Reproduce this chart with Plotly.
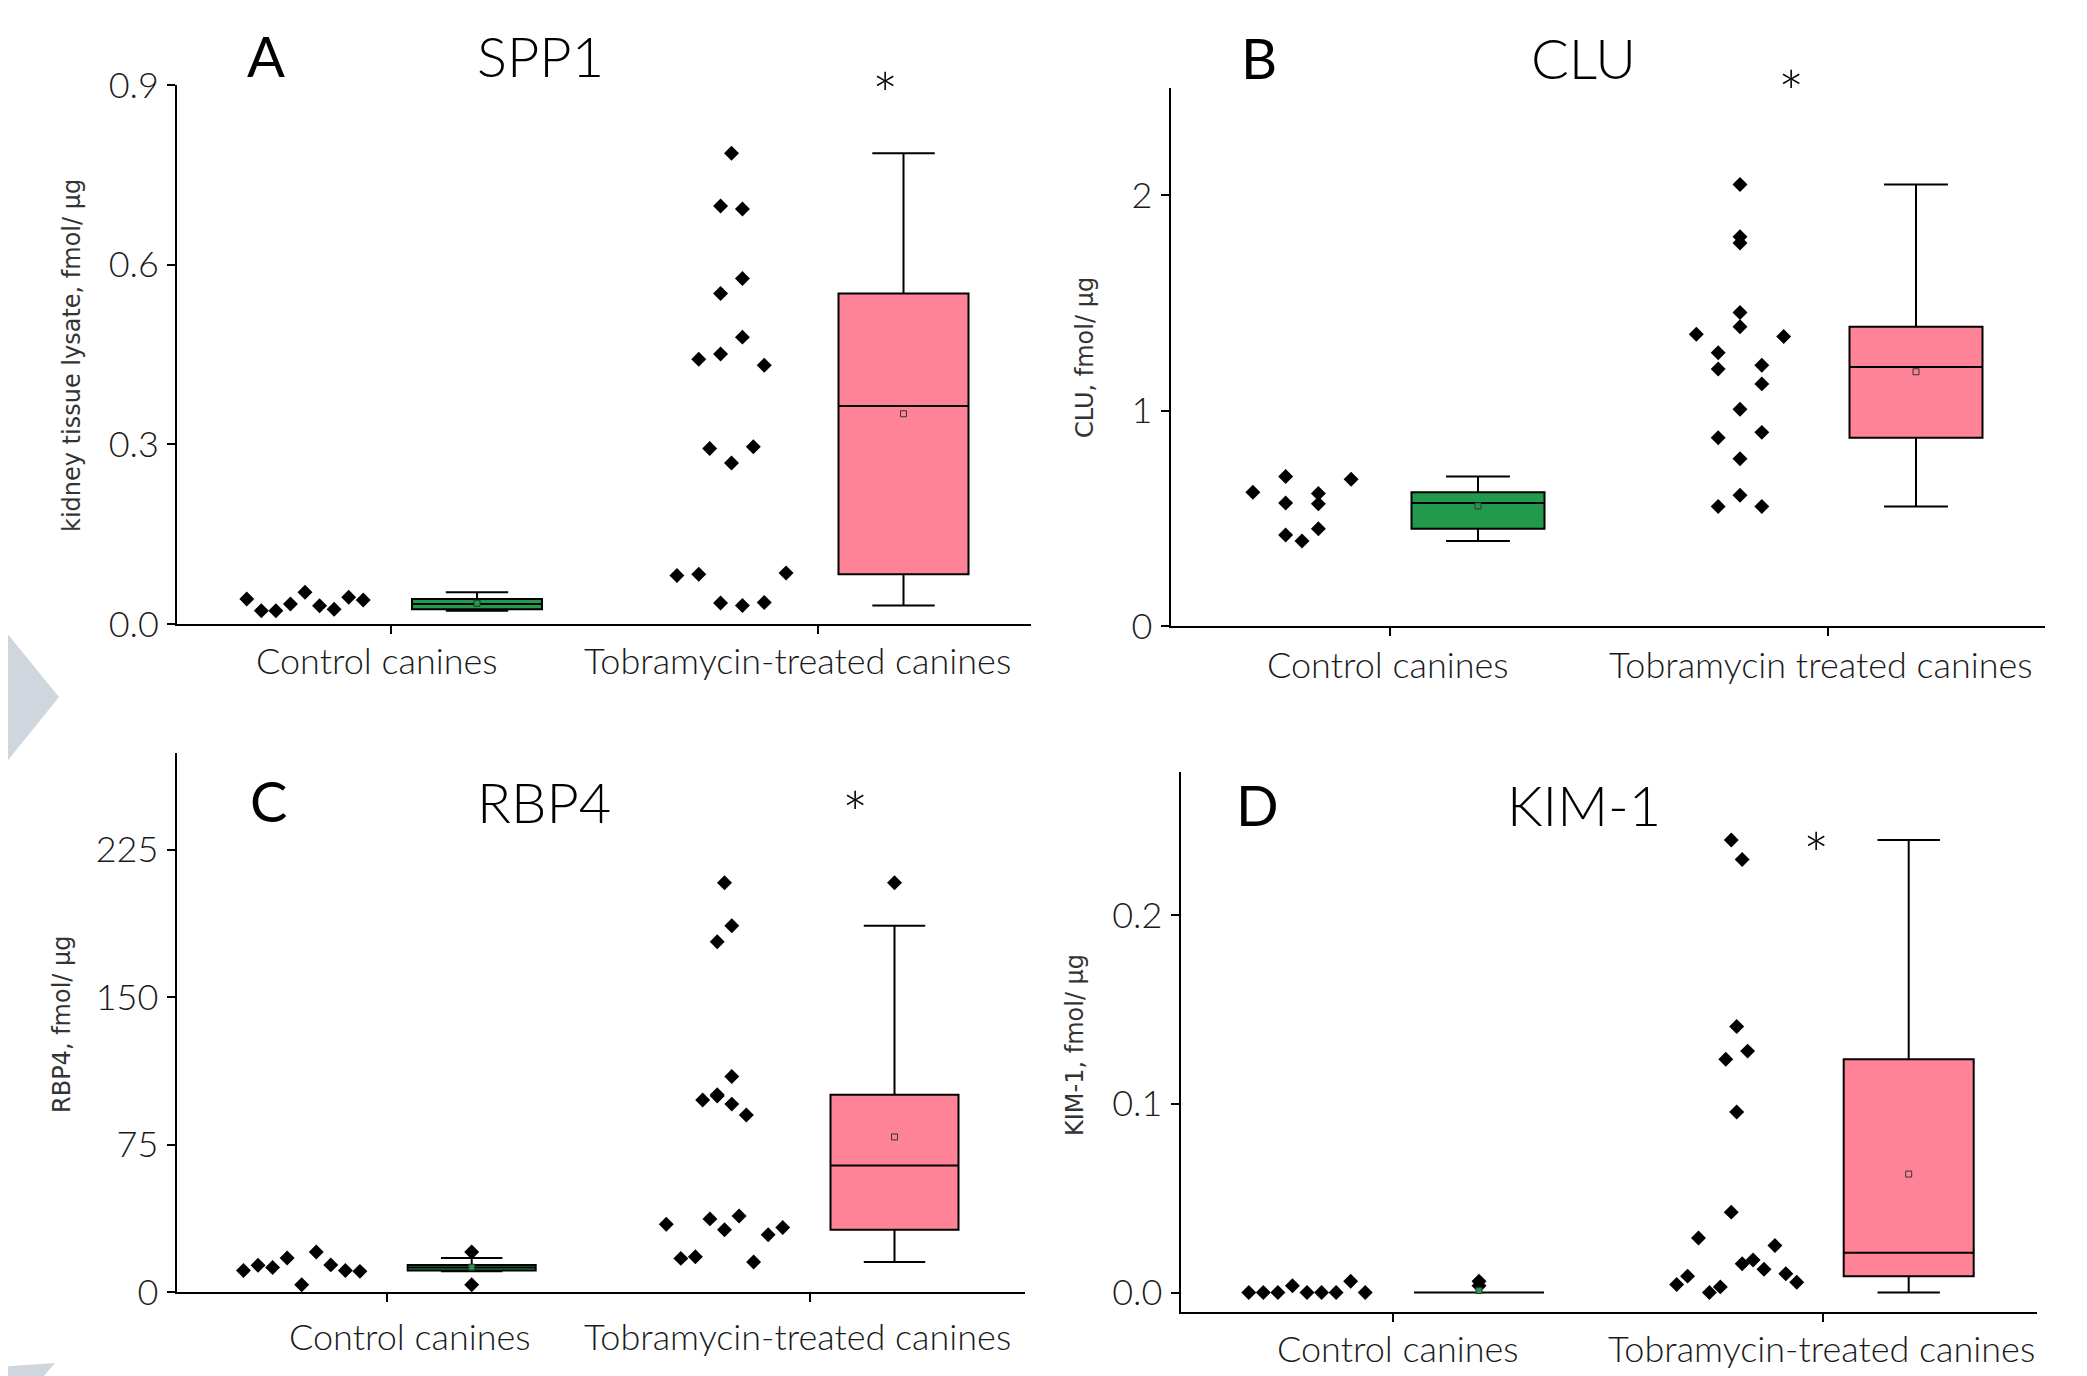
import numpy as np
import plotly.graph_objects as go

W, H = 2087, 1376
PAGE_MARGIN = 8  # the HTML body margin that shifts the whole figure on the page

# ---------------- data ----------------
groups = ["Control canines", "Tobramycin-treated canines"]
groups_b = ["Control canines", "Tobramycin treated canines"]

spp1_control = [0.0417, 0.0222, 0.0222, 0.0334, 0.0529, 0.0306, 0.0245, 0.0446, 0.0401]
spp1_treated = [0.786, 0.698, 0.693, 0.552, 0.577, 0.442, 0.451, 0.479, 0.432,
                0.293, 0.269, 0.296, 0.081, 0.083, 0.035, 0.031, 0.036, 0.085]

clu_control = [0.621, 0.422, 0.694, 0.571, 0.395, 0.451, 0.615, 0.681, 0.567]
clu_treated = [2.05, 1.807, 1.778, 1.455, 1.354, 1.389, 1.344, 1.269, 1.193,
               1.211, 1.124, 1.006, 0.874, 0.899, 0.776, 0.555, 0.607, 0.555]

rbp4_control = [10.9, 13.6, 12.5, 17.3, 3.7, 20.3, 13.8, 10.9, 10.5]
rbp4_treated = [34.5, 17.1, 17.9, 37.2, 31.7, 38.7, 15.3, 29.1, 32.8,
                97.7, 99.7, 95.6, 90.1, 100.4, 109.6, 178.2, 186.3, 208.2]

kim1_control = [0.0, 0.0, 0.0, 0.0036, 0.0, 0.0, 0.0, 0.006, 0.0]
kim1_treated = [0.2397, 0.2294, 0.1236, 0.1409, 0.1279, 0.0956, 0.0043, 0.0087, 0.0289,
                0.0, 0.0030, 0.0426, 0.0153, 0.0173, 0.0123, 0.0249, 0.0100, 0.0055]

spp1_ticks = [0.0, 0.3, 0.6, 0.9]
clu_ticks = [0, 1, 2]
rbp4_ticks = [0, 75, 150, 225]
kim1_ticks = [0.0, 0.1, 0.2]

# ---------------- style / layout ----------------
GREEN = "#229a4b"
PINK = "#ff8396"
FONT = "Lato"
SPAN = 131  # horizontal spread (px) of the widest bin of points

panels = [
    dict(letter="A", name="SPP1", ctrl=spp1_control, trt=spp1_treated, labels=groups,
         ytitle="kidney tissue lysate, fmol/ µg", yrange=[0, 0.9], ticks=spp1_ticks, fmt="{:.1f}",
         binw=0.1, x0=177, x1=1031, ytop=85, ybot=624, xt=[391, 817.5], off=86, boxw=130,
         lab=[(377, 660), (797.5, 660)], letter_xy=(266, 55), name_xy=(540, 56),
         star_xy=(885, 79), ytitle_xy=(72, 356)),
    dict(letter="B", name="CLU", ctrl=clu_control, trt=clu_treated, labels=groups_b,
         ytitle="CLU, fmol/ µg", yrange=[0, 2.5], ticks=clu_ticks, fmt="{:.0f}",
         binw=0.1, x0=1170.5, x1=2045, ytop=87.5, ybot=626, xt=[1390, 1828], off=88, boxw=133,
         lab=[(1388, 664), (1821, 664)], letter_xy=(1259, 58), name_xy=(1583, 58),
         star_xy=(1790.6, 77), ytitle_xy=(1085, 358)),
    dict(letter="C", name="RBP4", ctrl=rbp4_control, trt=rbp4_treated, labels=groups,
         ytitle="RBP4, fmol/ µg", yrange=[0, 274.5], ticks=rbp4_ticks, fmt="{:.0f}",
         binw=50, x0=176.5, x1=1025, ytop=752.5, ybot=1292, xt=[386.7, 809.5], off=85, boxw=128,
         lab=[(410, 1336), (797.5, 1336)], letter_xy=(268, 800), name_xy=(544, 801),
         star_xy=(855, 798), ytitle_xy=(62, 1024)),
    dict(letter="D", name="KIM-1", ctrl=kim1_control, trt=kim1_treated, labels=groups,
         ytitle="KIM-1, fmol/ µg", yrange=[-0.0103, 0.2756], ticks=kim1_ticks, fmt="{:.1f}",
         binw=0.05, x0=1180.5, x1=2037, ytop=772.3, ybot=1312, xt=[1393, 1822.7], off=86, boxw=130,
         lab=[(1398, 1348), (1821, 1348)], letter_xy=(1257, 804), name_xy=(1584, 804),
         star_xy=(1816, 839), ytitle_xy=(1075, 1045)),
]


def bin_layout(vals, binw, span):
    """Deterministic 'bin' dot layout: points in the same value bin are spread side by side."""
    idx = [int(np.floor(v / binw + 1e-9)) for v in vals]
    counts = {}
    for b in idx:
        counts[b] = counts.get(b, 0) + 1
    step = span / max(counts.values())
    seen, offs = {}, []
    for b in idx:
        i = seen.get(b, 0)
        seen[b] = i + 1
        offs.append((i - (counts[b] - 1) / 2) * step)
    return offs


def px(x):
    return (x - PAGE_MARGIN) / W


def py(y):
    return 1 - (y - PAGE_MARGIN) / H


fig = go.Figure()
annotations = []
layout_axes = {}
STAR_SIZE = 62

for k, p in enumerate(panels, start=1):
    xa = "x" if k == 1 else f"x{k}"
    ya = "y" if k == 1 else f"y{k}"
    for gi, (vals, color) in enumerate([(p["ctrl"], GREEN), (p["trt"], PINK)]):
        center = p["xt"][gi]
        sc_x = center - p["off"]
        bx_x = center + p["off"]
        offs = bin_layout(vals, p["binw"], SPAN)
        fig.add_trace(go.Scatter(
            x=[sc_x + o for o in offs], y=vals, mode="markers", xaxis=xa, yaxis=ya,
            marker=dict(symbol="diamond", size=11.5, color="black", line=dict(width=0)),
            cliponaxis=False, showlegend=False, hoverinfo="y"))
        fig.add_trace(go.Box(
            x=[bx_x] * len(vals), y=vals, xaxis=xa, yaxis=ya, width=p["boxw"],
            quartilemethod="inclusive", boxpoints="outliers", fillcolor=color,
            line=dict(color="black", width=2), whiskerwidth=0.48,
            marker=dict(symbol="diamond", size=11.5, color="black", line=dict(width=0)),
            showlegend=False))
        fig.add_trace(go.Scatter(
            x=[bx_x], y=[float(np.mean(vals))], mode="markers", xaxis=xa, yaxis=ya,
            marker=dict(symbol="square", size=6, color=color, line=dict(color="#333", width=1)),
            cliponaxis=False, showlegend=False, hoverinfo="y"))

    layout_axes["xaxis" if k == 1 else f"xaxis{k}"] = dict(
        domain=[px(p["x0"]), px(p["x1"])], range=[p["x0"], p["x1"]], anchor=ya,
        showline=True, linewidth=2, linecolor="black", ticks="outside", ticklen=8,
        tickwidth=1.5, tickcolor="black", tickvals=p["xt"], showticklabels=False,
        showgrid=False, zeroline=False, fixedrange=True, automargin=False)
    layout_axes["yaxis" if k == 1 else f"yaxis{k}"] = dict(
        domain=[py(p["ybot"]), py(p["ytop"])], range=p["yrange"], anchor=xa,
        showline=True, linewidth=2, linecolor="black", ticks="outside", ticklen=8,
        tickwidth=1.5, tickcolor="black", tickvals=p["ticks"],
        ticktext=[p["fmt"].format(t) for t in p["ticks"]],
        tickfont=dict(family=FONT, size=36, color="#1a1a1a", weight=300),
        ticklabelstandoff=1, showgrid=False, zeroline=False, fixedrange=True,
        automargin=False)

    for (lx, ly), txt in zip(p["lab"], p["labels"]):
        annotations.append(dict(x=px(lx), y=py(ly), xref="paper", yref="paper", text=txt,
                                showarrow=False, xanchor="center", yanchor="middle",
                                font=dict(family=FONT, size=36, color="#1a1a1a", weight=300)))
    annotations.append(dict(x=px(p["letter_xy"][0]), y=py(p["letter_xy"][1]), xref="paper",
                            yref="paper", text=p["letter"], showarrow=False,
                            xanchor="center", yanchor="middle",
                            font=dict(family=FONT, size=56, color="black", weight=400)))
    annotations.append(dict(x=px(p["name_xy"][0]), y=py(p["name_xy"][1]), xref="paper",
                            yref="paper", text=p["name"], showarrow=False,
                            xanchor="center", yanchor="middle",
                            font=dict(family=FONT, size=56, color="black", weight=300)))
    annotations.append(dict(x=px(p["star_xy"][0]), y=py(p["star_xy"][1] + 0.235 * STAR_SIZE),
                            xref="paper", yref="paper", text="*", showarrow=False,
                            xanchor="center", yanchor="middle",
                            font=dict(family=FONT, size=STAR_SIZE, color="black", weight=300)))
    annotations.append(dict(x=px(p["ytitle_xy"][0]), y=py(p["ytitle_xy"][1]), xref="paper",
                            yref="paper", text=p["ytitle"], showarrow=False, textangle=-90,
                            xanchor="center", yanchor="middle",
                            font=dict(family="DejaVu Sans", size=24, color="#333")))

# decorative grey chevrons at the left edge
deco = "#cfd6dd"
shapes = [
    dict(type="path", xref="paper", yref="paper", layer="below", fillcolor=deco,
         line=dict(width=0),
         path=f"M {px(-20)},{py(600)} L {px(59)},{py(697)} L {px(-20)},{py(795)} Z"),
    dict(type="path", xref="paper", yref="paper", layer="below", fillcolor=deco,
         line=dict(width=0),
         path=(f"M {px(-20)},{py(1368)} L {px(55)},{py(1363)} L {px(32)},{py(1390)} "
               f"L {px(-20)},{py(1390)} Z")),
]

fig.update_layout(
    width=W, height=H, autosize=False,
    margin=dict(l=0, r=0, t=0, b=0, pad=0, autoexpand=False),
    paper_bgcolor="white", plot_bgcolor="white", boxmode="overlay",
    showlegend=False, annotations=annotations, shapes=shapes, **layout_axes)

fig.write_html("out.html")
